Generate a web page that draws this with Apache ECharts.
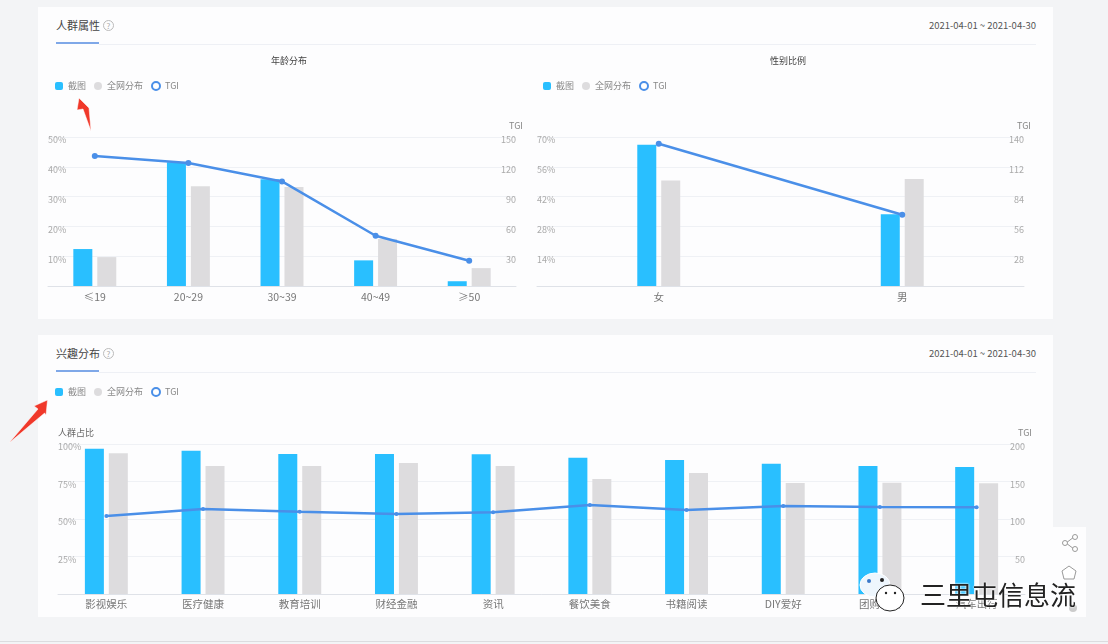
<!DOCTYPE html>
<html>
<head>
<meta charset="utf-8">
<title>人群属性</title>
<script src="https://cdn.jsdelivr.net/npm/echarts@6/dist/echarts.min.js"></script>
<style>
  html, body { margin: 0; padding: 0; width: 1108px; height: 644px; overflow: hidden; background: #f3f4f6; font-family: "Noto Sans CJK SC", sans-serif; }
  .abs { position: absolute; }
  .card { position: absolute; left: 38px; width: 1015px; background: #fdfdfe; }
  .head { position: absolute; left: 56px; font-size: 11px; line-height: 14px; color: #444; }
  .help { position: absolute; width: 9px; height: 9px; border: 1px solid #bbb; border-radius: 50%; font-size: 8px; line-height: 9px; text-align: center; color: #aaa; }
  .date { position: absolute; right: 72px; font-size: 9.5px; line-height: 14px; color: #555; }
  .tab { position: absolute; left: 56px; width: 43px; height: 2px; background: #7fa8e8; }
  .rule { position: absolute; left: 99px; width: 937px; height: 1px; background: #eef0f5; }
  #tools { position: absolute; left: 1053px; top: 527px; width: 33px; height: 90px; background: #fdfdfe; }
  #mark { position: absolute; left: 920px; top: 574px; font-size: 26px; line-height: 40px; color: #222; letter-spacing: 0; text-shadow: 0 0 2px #fff, 0 0 2px #fff; white-space: nowrap; }
  #bottom { position: absolute; left: 0; top: 641px; width: 1108px; height: 1px; background: #dcdcdf; }
</style>
</head>
<body>
<div class="card" style="top:7px;height:312px"></div>
<div class="card" style="top:335px;height:282px"></div>
<div id="bottom"></div>

<div class="head" style="top:18px">人群属性</div>
<div class="help" style="left:103px;top:20px">?</div>
<div class="date" style="top:18px">2021-04-01 ~ 2021-04-30</div>
<div class="tab" style="top:42px"></div>
<div class="rule" style="top:44px"></div>

<div class="head" style="top:346px">兴趣分布</div>
<div class="help" style="left:103px;top:348px">?</div>
<div class="date" style="top:346px">2021-04-01 ~ 2021-04-30</div>
<div class="tab" style="top:370px"></div>
<div class="rule" style="top:372px"></div>

<div id="chart0" class="abs" style="left:38px;top:45px;width:502px;height:274px"></div>
<div id="chart1" class="abs" style="left:528px;top:45px;width:520px;height:274px"></div>
<div id="chart2" class="abs" style="left:38px;top:375px;width:1015px;height:242px"></div>

<div id="tools"></div>
<svg class="abs" style="left:0;top:0" width="1108" height="644">
  <!-- red arrows -->
  <polygon points="79,98 77,110 83,109 91,131 89,108" fill="#f0382a" stroke="#fff" stroke-width="0.5"/>
  <polygon points="47.5,400 34,406 38,409 9,443 44.6,413 46,415" fill="#f0382a" stroke="#fff" stroke-width="0.5"/>
  <!-- toolbar icons -->
  <g fill="#fff" stroke="#999" stroke-width="1">
    <line x1="1066" y1="543" x2="1074" y2="537"/>
    <line x1="1066" y1="543" x2="1074" y2="549"/>
    <circle cx="1065" cy="543" r="2.5"/>
    <circle cx="1075" cy="537" r="2.5"/>
    <circle cx="1075" cy="549" r="2.5"/>
    <polygon points="1069,566 1076,571 1074,579 1064,579 1062,571"/>
  </g>
  <circle cx="1073" cy="608" r="4" fill="#ccc"/>
  <!-- wechat logo of the watermark -->
  <ellipse cx="875" cy="585" rx="15" ry="12" fill="#eef6fd" stroke="#fff" stroke-width="1"/>
  <circle cx="869" cy="581" r="2" fill="#3a78c8"/>
  <circle cx="882" cy="580" r="2" fill="#222"/>
  <ellipse cx="890" cy="598" rx="14" ry="13" fill="#fff" stroke="#222" stroke-width="1"/>
  <circle cx="886" cy="593" r="1.2" fill="#222"/>
  <circle cx="895" cy="593" r="1.2" fill="#222"/>
</svg>
<div id="mark">三里屯信息流</div>

<script>
const BLUE = '#29bfff';
const GREY = '#dddcde';
const LINE = '#4a8fe8';
const LEGEND = ['截图', '全网分布', 'TGI'];

const ageCats = ['≤19', '20~29', '30~39', '40~49', '≥50'];
const ageShot = [12.4, 41.5, 35.8, 8.6, 1.6];
const ageAll = [9.7, 33.5, 33.2, 15.8, 6];
const ageTgi = [130.8, 123.8, 105.3, 50.6, 25.5];

const sexCats = ['女', '男'];
const sexShot = [66.4, 33.7];
const sexAll = [49.6, 50.3];
const sexTgi = [133.6, 67];

const hobbyCats = ['影视娱乐', '医疗健康', '教育培训', '财经金融', '资讯', '餐饮美食', '书籍阅读', 'DIY爱好', '团购优惠', '汽车出行'];
const hobbyShot = [96.9, 95.5, 93.3, 93.3, 93.1, 90.9, 89.3, 86.9, 85.3, 84.7];
const hobbyAll = [93.8, 85.3, 85.3, 87.3, 85.3, 76.7, 80.7, 74, 74.2, 73.8];
const hobbyTgi = [104, 113.3, 109.8, 106.7, 108.9, 118.7, 112, 117.3, 116, 115.6];

function valueAxis(max, interval, fmt, name, nameAlign) {
  return {
    type: 'value',
    min: 0,
    max: max,
    interval: interval,
    name: name,
    nameGap: 7,
    nameTextStyle: { color: name === 'TGI' ? '#888' : '#666', fontSize: 9, align: nameAlign },
    axisLine: { show: false },
    axisTick: { show: false },
    splitLine: { lineStyle: { color: '#eff1f5', width: 1 } },
    axisLabel: {
      inside: true,
      margin: 0,
      showMinLabel: false,
      formatter: fmt,
      color: '#aaa',
      fontSize: 9,
      //labels sit a little under their grid line in the original
      verticalAlign: 'top',
      lineHeight: 6
    }
  };
}

function getOption(conf) {
  var option = {
    animation: false,
    textStyle: { fontFamily: '"Noto Sans CJK SC", sans-serif' },
    legend: {
      data: [
        { name: LEGEND[0], icon: 'roundRect' },
        { name: LEGEND[1], icon: 'circle' },
        { name: LEGEND[2], icon: 'emptyCircle', itemStyle: { borderWidth: 1 } }
      ],
      left: conf.legendLeft,
      top: conf.legendTop,
      itemWidth: 8,
      itemHeight: 8,
      itemGap: 8,
      textStyle: { color: '#888', fontSize: 9 }
    },
    grid: { left: conf.left, top: conf.top, width: conf.width, height: conf.height },
    xAxis: {
      type: 'category',
      data: conf.cats,
      axisTick: { show: false },
      axisLine: { lineStyle: { color: '#dfe2e8' } },
      axisLabel: { color: '#777', fontSize: conf.catSize, margin: conf.catMargin, interval: 0 }
    },
    yAxis: [
      valueAxis(conf.leftMax, conf.leftStep, '{value}%', conf.leftName, 'left'),
      valueAxis(conf.rightMax, conf.rightStep, '{value}', 'TGI', 'center')
    ],
    series: [
      { name: LEGEND[0], type: 'bar', data: conf.shot, barWidth: 19, barGap: '26%', itemStyle: { color: BLUE } },
      { name: LEGEND[1], type: 'bar', data: conf.all, barWidth: 19, itemStyle: { color: GREY } },
      {
        name: LEGEND[2],
        type: 'line',
        yAxisIndex: 1,
        data: conf.tgi,
        symbol: 'circle',
        symbolSize: conf.dot,
        lineStyle: { color: LINE, width: 2.5 },
        itemStyle: { color: LINE }
      }
    ]
  };
  if (conf.title) {
    option.title = {
      text: conf.title,
      left: 'center',
      top: 6,
      textStyle: { color: '#444', fontSize: 9, fontWeight: 'normal' }
    };
  }
  return option;
}

echarts.init(document.getElementById('chart0')).setOption(getOption({
  title: '年龄分布', cats: ageCats, shot: ageShot, all: ageAll, tgi: ageTgi,
  legendLeft: 12, legendTop: 31, left: 10, top: 92, width: 468, height: 149, catSize: 10.5, catMargin: 6, dot: 6,
  leftMax: 50, leftStep: 10, rightMax: 150, rightStep: 30
}));

echarts.init(document.getElementById('chart1')).setOption(getOption({
  title: '性别比例', cats: sexCats, shot: sexShot, all: sexAll, tgi: sexTgi,
  legendLeft: 10, legendTop: 31, left: 9, top: 92, width: 487, height: 149, catSize: 10.5, catMargin: 6, dot: 6,
  leftMax: 70, leftStep: 14, rightMax: 140, rightStep: 28
}));

echarts.init(document.getElementById('chart2')).setOption(getOption({
  cats: hobbyCats, shot: hobbyShot, all: hobbyAll, tgi: hobbyTgi,
  legendLeft: 12, legendTop: 7, left: 20, top: 69, width: 967, height: 150, catSize: 10.5, catMargin: 5, dot: 4,
  leftMax: 100, leftStep: 25, leftName: '人群占比', rightMax: 200, rightStep: 50
}));
</script>
</body>
</html>
